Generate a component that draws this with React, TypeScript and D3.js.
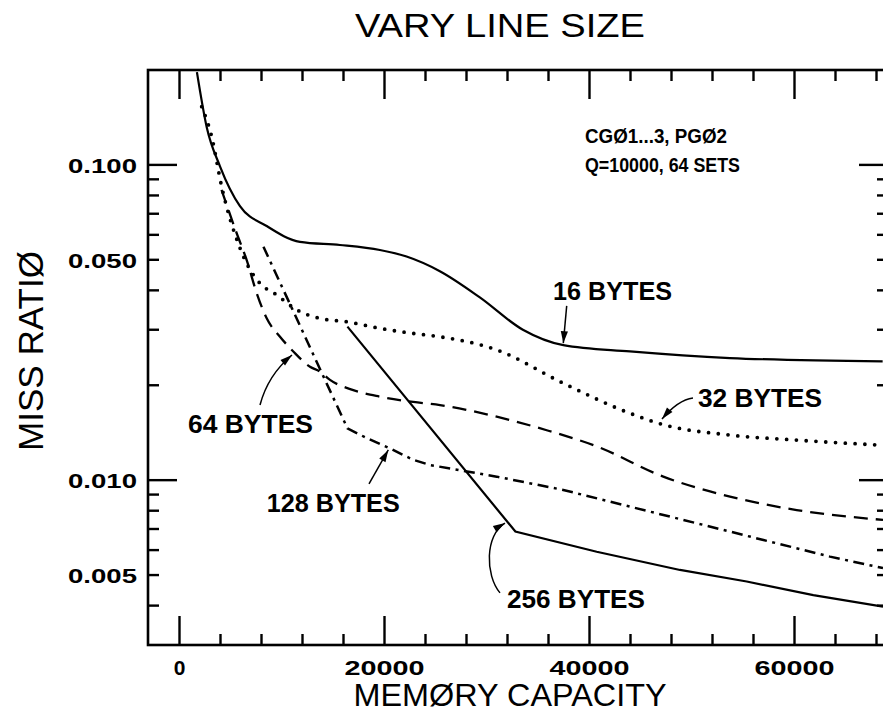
import React from 'react';
import * as d3 from 'd3';

const W = 883;
const H = 714;

// ---- data (memory capacity in bytes, miss ratio) ----
const bytes16: [number, number][] = [
  [1700, 0.197], [2650, 0.132], [3950, 0.099], [5900, 0.074], [8500, 0.064],
  [11750, 0.057], [15650, 0.0557], [19550, 0.0537], [22150, 0.0512], [25400, 0.046],
  [29300, 0.038], [33500, 0.030], [37450, 0.0268], [43950, 0.0256], [53700, 0.0244],
  [68600, 0.0238],
];
const bytes32: [number, number][] = [
  [2166, 0.153], [3141, 0.1229], [4117, 0.0853], [5902, 0.0545], [6556, 0.0487],
  [7854, 0.0421], [9483, 0.0387], [11434, 0.0347], [13707, 0.0326], [16312, 0.0318],
  [19561, 0.0303], [22810, 0.0292], [25415, 0.0285], [30946, 0.0259], [37444, 0.0203],
  [43951, 0.0163], [47200, 0.015], [53707, 0.0139], [60215, 0.0134], [68634, 0.0129],
];
const bytes64: [number, number][] = [
  [4098, 0.0833], [5580, 0.0607], [6556, 0.0499], [7532, 0.0392], [8507, 0.0326],
  [9805, 0.0285], [11102, 0.0256], [12732, 0.0229], [13707, 0.0221], [14683, 0.0208],
  [16956, 0.0193], [19561, 0.0184], [22810, 0.0177], [25415, 0.0173], [30946, 0.0159],
  [35824, 0.0144], [40702, 0.0128], [47200, 0.01026], [53707, 0.00887], [60215, 0.00804],
  [68634, 0.00748],
];
const bytes128: [number, number][] = [
  [8192, 0.055], [16384, 0.0146], [18263, 0.0136], [20537, 0.0126], [22810, 0.0116],
  [24439, 0.01117], [30946, 0.01026], [37444, 0.00931], [43951, 0.00824], [50459, 0.0073],
  [56966, 0.00646], [63463, 0.00572], [68634, 0.00526],
];
const bytes256: [number, number][] = [
  [16384, 0.0307], [32768, 0.00687], [40702, 0.00593], [48829, 0.00519], [55337, 0.00477],
  [61834, 0.00432], [68634, 0.00397],
];

// ---- ticks ----
const xTickValues = [0, 4000, 8000, 12000, 16000, 20000, 24000, 28000, 32000, 36000, 40000, 44000, 48000, 52000, 56000, 60000, 64000, 68000];
const xMajorValues = [0, 20000, 40000, 60000];
const xLabelText = ['0', '20000', '40000', '60000'];
const yTickValues = [0.1, 0.09, 0.08, 0.07, 0.06, 0.05, 0.04, 0.03, 0.02, 0.01, 0.009, 0.008, 0.007, 0.006, 0.005, 0.004];
const yMajorValues = [0.1, 0.01];
const yLabelValues = [0.1, 0.05, 0.01, 0.005];
const yLabelText = ['0.100', '0.050', '0.010', '0.005'];

// ---- annotations (data coordinates) ----
const curveLabels = [
  { text: '16 BYTES', x: 36440, y: 0.0373, len: 119 },
  { text: '32 BYTES', x: 50585, y: 0.01707, len: 124 },
  { text: '64 BYTES', x: 829, y: 0.01412, len: 125 },
  { text: '128 BYTES', x: 8507, y: 0.00793, len: 133 },
  { text: '256 BYTES', x: 31951, y: 0.00393, len: 138 },
];
const arrowPaths: [number, number][][] = [
  [[37776, 0.0357], [37444, 0.0272]],
  [[50098, 0.01823], [48634, 0.01797], [47073, 0.01563]],
  [[7854, 0.01732], [8634, 0.02157], [10976, 0.02495]],
  [[18488, 0.00973], [20371, 0.01247]],
  [[31268, 0.00439], [29805, 0.005], [29805, 0.0067], [31756, 0.00731]],
];
const noteLines = ['CGØ1...3, PGØ2', 'Q=10000, 64 SETS'];
const noteLens = [142, 155];
const noteX = 39561;
const noteY = [0.1174, 0.095];

const FONT = "'Liberation Sans', Arial, sans-serif";

export default function App() {
  const x = d3.scaleLinear().domain([-3073, 69122]).range([148, 888]);
  const y = d3.scaleLog().domain([0.003, 0.2]).range([645, 70]);
  const [x0, x1] = x.range();
  const [yb, yt] = y.range();

  const smooth = d3.line<[number, number]>().x(d => x(d[0])).y(d => y(d[1])).curve(d3.curveMonotoneX);
  const straight = d3.line<[number, number]>().x(d => x(d[0])).y(d => y(d[1]));

  const major = 29;
  const minor = 11;

  const arrowHead = (tip: [number, number], from: [number, number]) => {
    const dx = tip[0] - from[0];
    const dy = tip[1] - from[1];
    const l = Math.hypot(dx, dy) || 1;
    const ux = dx / l, uy = dy / l;
    const L = 12, hw = 3.6;
    const bx = tip[0] - ux * L, by = tip[1] - uy * L;
    return `M${tip[0]},${tip[1]}L${bx - uy * hw},${by + ux * hw}L${bx + uy * hw},${by - ux * hw}Z`;
  };

  return (
    <svg width={W} height={H} style={{ position: 'absolute', left: 0, top: 0, background: '#fff' }} fontFamily={FONT}>
      <defs>
        <clipPath id="plot">
          <rect x={x0} y={yt} width={x1 - x0} height={yb - yt} />
        </clipPath>
      </defs>
      <rect x={0} y={0} width={W} height={H} fill="#fff" />

      {/* title */}
      <text x={500} y={37} textAnchor="middle" fontSize={33} textLength={290} lengthAdjust="spacingAndGlyphs">VARY LINE SIZE</text>

      {/* frame */}
      <rect x={x0} y={yt} width={x1 - x0} height={yb - yt} fill="none" stroke="#000" strokeWidth={2.6} />

      {/* x ticks top & bottom */}
      {xTickValues.map(v => {
        const len = xMajorValues.includes(v) ? major : minor;
        return (
          <g key={'xt' + v} stroke="#000" strokeWidth={2.4}>
            <line x1={x(v)} x2={x(v)} y1={yb} y2={yb - len} />
            <line x1={x(v)} x2={x(v)} y1={yt} y2={yt + len} />
          </g>
        );
      })}
      {/* y ticks left & right */}
      {yTickValues.map(v => {
        const len = yMajorValues.includes(v) ? major : minor;
        return (
          <g key={'yt' + v} stroke="#000" strokeWidth={2.4}>
            <line x1={x0} x2={x0 + len} y1={y(v)} y2={y(v)} />
            <line x1={x1} x2={x1 - len} y1={y(v)} y2={y(v)} />
          </g>
        );
      })}

      {/* tick labels */}
      {xMajorValues.map((v, i) => (
        <text key={'xl' + v} x={x(v)} y={675} textAnchor="middle" fontSize={21} fontWeight="bold"
          textLength={xLabelText[i].length > 1 ? 80 : undefined} lengthAdjust="spacingAndGlyphs">{xLabelText[i]}</text>
      ))}
      {yLabelValues.map((v, i) => (
        <text key={'yl' + v} x={137} y={y(v) + 8} textAnchor="end" fontSize={21} fontWeight="bold"
          textLength={69} lengthAdjust="spacingAndGlyphs">{yLabelText[i]}</text>
      ))}

      {/* axis titles */}
      <text x={510} y={706} textAnchor="middle" fontSize={32} textLength={313} lengthAdjust="spacingAndGlyphs">MEMØRY CAPACITY</text>
      <text transform="translate(43,351) rotate(-90)" textAnchor="middle" fontSize={35} textLength={200} lengthAdjust="spacingAndGlyphs">MISS RATIØ</text>

      {/* curves */}
      <g clipPath="url(#plot)" fill="none" stroke="#000">
        <path d={smooth(bytes16) || ''} strokeWidth={2.2} />
        <path d={smooth(bytes32) || ''} strokeWidth={3.8} strokeDasharray="0 9.8" strokeLinecap="round" />
        <path d={smooth(bytes64) || ''} strokeWidth={2.3} strokeDasharray="14 8" />
        <path d={straight(bytes128) || ''} strokeWidth={2.5} strokeDasharray="11 5.5 3 5.5" />
        <path d={straight(bytes256) || ''} strokeWidth={2.2} />
      </g>

      {/* curve labels */}
      {curveLabels.map(l => (
        <text key={l.text} x={x(l.x)} y={y(l.y)} fontSize={25} fontWeight="bold" textLength={l.len} lengthAdjust="spacingAndGlyphs">{l.text}</text>
      ))}

      {/* arrows */}
      {arrowPaths.map((p, i) => {
        const pts = p.map(d => [x(d[0]), y(d[1])] as [number, number]);
        let d = `M${pts[0][0]},${pts[0][1]}`;
        if (pts.length === 2) d += `L${pts[1][0]},${pts[1][1]}`;
        else if (pts.length === 3) d += `Q${pts[1][0]},${pts[1][1]} ${pts[2][0]},${pts[2][1]}`;
        else d += `C${pts[1][0]},${pts[1][1]} ${pts[2][0]},${pts[2][1]} ${pts[3][0]},${pts[3][1]}`;
        const tip = pts[pts.length - 1];
        const from = pts[pts.length - 2];
        return (
          <g key={'ar' + i}>
            <path d={d} fill="none" stroke="#000" strokeWidth={1.5} />
            <path d={arrowHead(tip, from)} fill="#000" />
          </g>
        );
      })}

      {/* note */}
      {noteLines.map((t, i) => (
        <text key={t} x={x(noteX)} y={y(noteY[i])} fontSize={20} fontWeight="bold"
          textLength={noteLens[i]} lengthAdjust="spacingAndGlyphs">{t}</text>
      ))}
    </svg>
  );
}
